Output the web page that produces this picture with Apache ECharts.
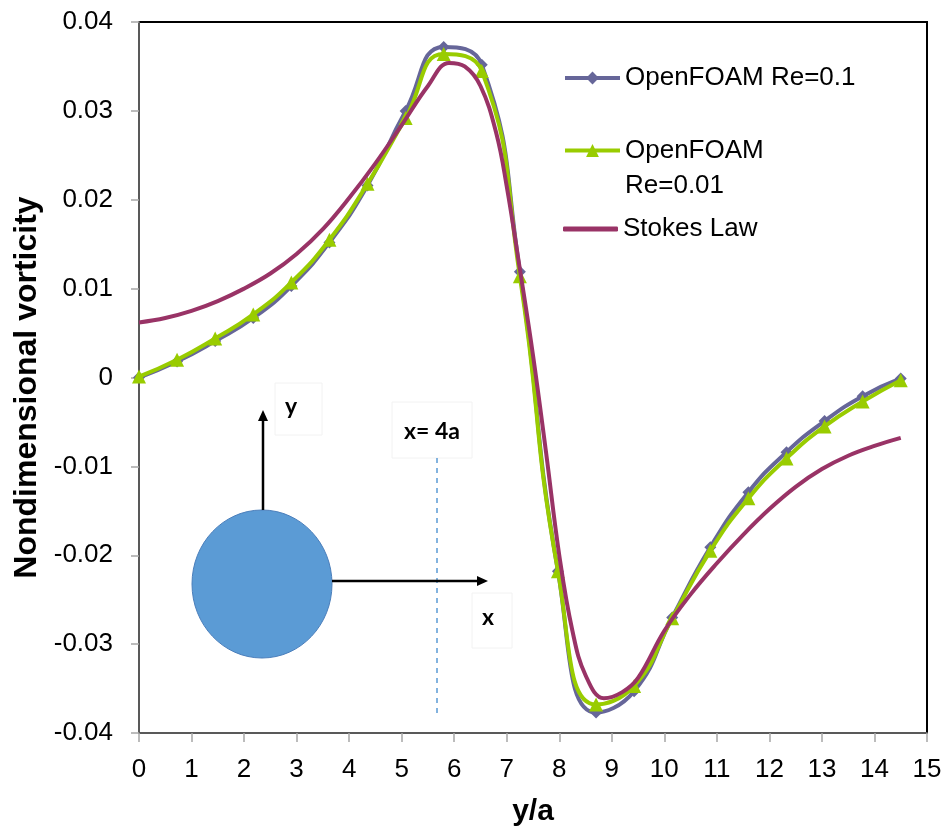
<!DOCTYPE html>
<html>
<head>
<meta charset="utf-8">
<script src="https://cdn.jsdelivr.net/npm/echarts@6/dist/echarts.min.js"></script>
<style>
  html, body { margin: 0; padding: 0; background: #fff; }
  #chart { width: 948px; height: 832px; }
</style>
</head>
<body>
<div id="chart"></div>
<script>
// Sampling positions along the line x = 4a (in units of the radius a)
const samplePos = [0, 0.725, 1.45, 2.175, 2.9, 3.625, 4.35, 5.075, 5.8, 6.525, 7.25,
  7.975, 8.7, 9.425, 10.15, 10.875, 11.6, 12.325, 13.05, 13.775, 14.5];

// OpenFOAM vorticity, Re = 0.1
const vortRe01 = [0.0000, 0.0018, 0.0041, 0.0067, 0.0103, 0.0152, 0.0216, 0.0300, 0.0372, 0.0352, 0.0119,
  -0.0218, -0.0377, -0.0353, -0.0270, -0.0191, -0.0129, -0.0084, -0.0049, -0.0021, -0.0001];

// OpenFOAM vorticity, Re = 0.01
const vortRe001 = [0.0001, 0.0020, 0.0044, 0.0071, 0.0107, 0.0155, 0.0218, 0.0292, 0.0364, 0.0345, 0.0114,
  -0.0218, -0.0368, -0.0347, -0.0271, -0.0195, -0.0136, -0.0091, -0.0055, -0.0027, -0.0003];

// Analytical Stokes-flow vorticity
const stokesPos = [0, 0.5, 1, 1.5, 2, 2.5, 3, 3.5, 4, 4.5, 5, 5.5, 5.9, 6.2, 6.5, 6.8, 7, 7.25, 7.5, 7.75,
  8, 8.25, 8.5, 8.85, 9.2, 9.5, 10, 10.5, 11, 11.5, 12, 12.5, 13, 13.5, 14, 14.5];
const stokesVort = [0.0062, 0.0067, 0.0075, 0.0086, 0.0100, 0.0117, 0.0139, 0.0167, 0.0202, 0.0241, 0.0284,
  0.0328, 0.0354, 0.0350, 0.0328, 0.0275, 0.0215, 0.0122, 0.0025, -0.0085,
  -0.0200, -0.0285, -0.0335, -0.0361, -0.0354, -0.0338, -0.0285, -0.0244, -0.0209, -0.0177,
  -0.0148, -0.0123, -0.0103, -0.0088, -0.0077, -0.0068];

const seriesNames = ['OpenFOAM Re=0.1', 'OpenFOAM Re=0.01', 'Stokes Law'];
const xAxisTitle = 'y/a';
const yAxisTitle = 'Nondimensional vorticity';

const FONT = '"Liberation Sans", Arial, sans-serif';
const SKETCH_FONT = 'Lato, "Open Sans", sans-serif';
const C_RE01 = '#666699';
const C_RE001 = '#99CC00';
const C_STOKES = '#993366';
const C_SPHERE = '#5B9BD5';

const chart = echarts.init(document.getElementById('chart'), null, { renderer: 'canvas' });

const legendCommon = {
  orient: 'vertical',
  left: 563,
  padding: 0,
  itemWidth: 55,
  itemHeight: 16,
  lineStyle: { width: 4 },
  textStyle: { fontFamily: FONT, fontSize: 26, color: '#000' },
  selectedMode: false
};

// Inset sketch: sphere with coordinate arrows and the sampling line
function arrow(x1, y1, x2, y2) {
  const dx = x2 - x1, dy = y2 - y1;
  const len = Math.hypot(dx, dy);
  const ux = dx / len, uy = dy / len;
  const hl = 11, hw = 5;
  const bx = x2 - ux * hl, by = y2 - uy * hl;
  return [
    { type: 'line', shape: { x1, y1, x2: bx, y2: by }, style: { stroke: '#000', lineWidth: 2.5 }, z: 10 },
    { type: 'polygon', shape: { points: [[x2, y2], [bx - uy * hw, by + ux * hw], [bx + uy * hw, by - ux * hw]] },
      style: { fill: '#000' }, z: 10 }
  ];
}
function textBox(x, y, w, h) {
  return { type: 'rect', shape: { x, y, width: w, height: h },
    style: { fill: '#fff', stroke: '#f2f2f2', lineWidth: 1 }, z: 8 };
}

const sketch = [
  textBox(275, 383, 47, 52),
  textBox(392, 402, 80, 56),
  textBox(472, 593, 40, 55),
  { type: 'line', shape: { x1: 437, y1: 458, x2: 437, y2: 715 },
    style: { stroke: C_SPHERE, lineWidth: 1.5, lineDash: [5, 5] }, z: 9 },
  { type: 'ellipse', shape: { cx: 262, cy: 584, rx: 70, ry: 74 },
    style: { fill: C_SPHERE, stroke: '#4A7EBB', lineWidth: 1 }, z: 10 },
  ...arrow(263, 510, 263, 410),
  ...arrow(332, 581, 488, 581),
  { type: 'text', x: 291, y: 407, style: { text: 'y', font: 'bold 23px ' + SKETCH_FONT, fill: '#000',
      align: 'center', verticalAlign: 'middle' }, z: 11 },
  { type: 'text', x: 432, y: 432, style: { text: 'x= 4a', font: 'bold 23px ' + SKETCH_FONT, fill: '#000',
      align: 'center', verticalAlign: 'middle' }, z: 11 },
  { type: 'text', x: 488, y: 618, style: { text: 'x', font: 'bold 23px ' + SKETCH_FONT, fill: '#000',
      align: 'center', verticalAlign: 'middle' }, z: 11 }
];

const option = {
  backgroundColor: '#fff',
  animation: false,
  grid: {
    left: 139, right: 21, top: 22, bottom: 98,
    show: true, borderColor: '#000', borderWidth: 2, backgroundColor: 'transparent'
  },
  legend: [
    Object.assign({}, legendCommon, { top: 65, data: [seriesNames[0]] }),
    Object.assign({}, legendCommon, {
      top: 98, data: [seriesNames[1]],
      // blank first line keeps the marker level with the first text line
      formatter: () => ' \nOpenFOAM\nRe=0.01',
      textStyle: Object.assign({}, legendCommon.textStyle, { lineHeight: 35 })
    }),
    Object.assign({}, legendCommon, {
      top: 216, itemHeight: 5,
      data: [{ name: seriesNames[2], icon: 'roundRect' }]
    })
  ],
  xAxis: {
    type: 'value', min: 0, max: 15, interval: 1,
    name: xAxisTitle, nameLocation: 'middle', nameGap: 64,
    nameTextStyle: { fontFamily: FONT, fontSize: 30, fontWeight: 'bold', color: '#000' },
    axisLine: { show: true, onZero: false, lineStyle: { color: '#595959', width: 2 } },
    axisTick: { show: true, inside: false, length: 9, lineStyle: { color: '#a6a6a6', width: 1.5 } },
    axisLabel: { fontFamily: FONT, fontSize: 26, color: '#000', margin: 24 },
    splitLine: { show: false }
  },
  yAxis: {
    type: 'value', min: -0.04, max: 0.04, interval: 0.01,
    name: yAxisTitle, nameLocation: 'middle', nameGap: 94, nameRotate: 90,
    nameTextStyle: { fontFamily: FONT, fontSize: 32, fontWeight: 'bold', color: '#000', padding: [0, 20, 0, 0] },
    axisLine: { show: true, onZero: false, lineStyle: { color: '#595959', width: 2 } },
    axisTick: { show: true, inside: false, length: 8, lineStyle: { color: '#a6a6a6', width: 1.5 } },
    axisLabel: {
      fontFamily: FONT, fontSize: 26, color: '#000', margin: 26,
      formatter: v => (Math.abs(v) < 1e-9 ? '0' : v.toFixed(2))
    },
    splitLine: { show: false }
  },
  series: [
    {
      name: seriesNames[0], type: 'line', smooth: 0.5,
      data: samplePos.map((p, i) => [p, vortRe01[i]]),
      symbol: 'diamond', symbolSize: 12, showAllSymbol: true,
      lineStyle: { color: C_RE01, width: 4 },
      itemStyle: { color: C_RE01 }, z: 2
    },
    {
      name: seriesNames[1], type: 'line', smooth: 0.5,
      data: samplePos.map((p, i) => [p, vortRe001[i]]),
      symbol: 'triangle', symbolSize: 14, showAllSymbol: true,
      lineStyle: { color: C_RE001, width: 4 },
      itemStyle: { color: C_RE001 }, z: 3
    },
    {
      name: seriesNames[2], type: 'line', smooth: 0.4,
      data: stokesPos.map((p, i) => [p, stokesVort[i]]),
      symbol: 'none',
      lineStyle: { color: C_STOKES, width: 4 },
      itemStyle: { color: C_STOKES }, z: 4
    }
  ],
  graphic: sketch
};

chart.setOption(option);
</script>
</body>
</html>
